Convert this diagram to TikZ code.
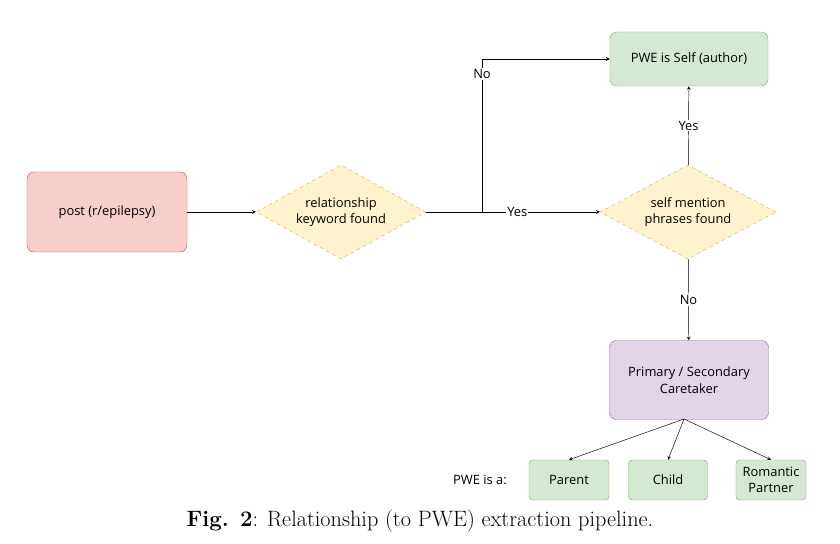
\documentclass[tikz,border=0pt]{standalone}
\usepackage{fontspec}
\newfontfamily\diagfont{Open Sans}
\usetikzlibrary{shapes.geometric}
\definecolor{redfill}{HTML}{F8CECC}\definecolor{redline}{HTML}{B85450}
\definecolor{yelfill}{HTML}{FFF2CC}\definecolor{yelline}{HTML}{D6B656}
\definecolor{grnfill}{HTML}{D5E8D4}\definecolor{grnline}{HTML}{82B366}
\definecolor{purfill}{HTML}{E1D5E7}\definecolor{purline}{HTML}{9673A6}
\tikzset{
  box/.style={draw,rounded corners=6pt,align=center,font=\diagfont\fontsize{11}{14}\selectfont},
  dec/.style={diamond,draw=yelline,fill=yelfill,dashed,aspect=1.8,inner sep=0pt,align=center,font=\diagfont\fontsize{11}{14}\selectfont},
  lbl/.style={fill=white,inner sep=1pt,font=\diagfont\fontsize{11}{14}\selectfont},
}
\begin{document}
\begin{tikzpicture}[x=0.03cm,y=-0.03cm,>=stealth]
\useasboundingbox (0,0) rectangle (840,544);
\node[box,fill=redfill,draw=redline,minimum width=160*0.03cm,minimum height=80*0.03cm] (post) at (107,212) {post (r/epilepsy)};
\node[dec,minimum width=170*0.03cm,minimum height=94*0.03cm] (kw) at (341,212) {relationship\\keyword found};
\node[dec,minimum width=176*0.03cm,minimum height=94*0.03cm] (self) at (688,212) {self mention\\phrases found};
\node[box,fill=grnfill,draw=grnline,minimum width=158*0.03cm,minimum height=54*0.03cm] (author) at (689,59) {PWE is Self (author)};
\node[box,fill=purfill,draw=purline,minimum width=159*0.03cm,minimum height=79*0.03cm] (care) at (689,380) {Primary / Secondary\\Caretaker};
\node[box,rounded corners=3pt,fill=grnfill,draw=grnline,minimum width=80*0.03cm,minimum height=40*0.03cm] (parent) at (569,480) {Parent};
\node[box,rounded corners=3pt,fill=grnfill,draw=grnline,minimum width=79*0.03cm,minimum height=40*0.03cm] (child) at (668,480) {Child};
\node[box,rounded corners=3pt,fill=grnfill,draw=grnline,minimum width=70*0.03cm,minimum height=40*0.03cm,inner sep=1pt] (partner) at (771,480) {Romantic\\Partner};
\node[font=\diagfont\fontsize{11}{14}\selectfont] (isa) at (480,480) {PWE is a:};
\coordinate (split) at (482,212);
\draw[->] (post) -- (kw);
\draw (kw) -- (split);
\draw[->] (split) -- node[lbl,pos=0.3]{Yes} (self);
\draw[->] (split) |- node[lbl,pos=0.45]{No} (author);
\draw[->] (self) -- node[lbl]{Yes} (author);
\draw[->] (self) -- node[lbl]{No} (care);
\draw[->] (684,419) -- (parent.north);
\draw[->] (684,419) -- (child.north);
\draw[->] (684,419) -- (partner.north);
\node (cap) at (420,521) {\fontsize{19}{23}\selectfont\textbf{Fig. 2}: Relationship (to PWE) extraction pipeline.};
\end{tikzpicture}
\end{document}
